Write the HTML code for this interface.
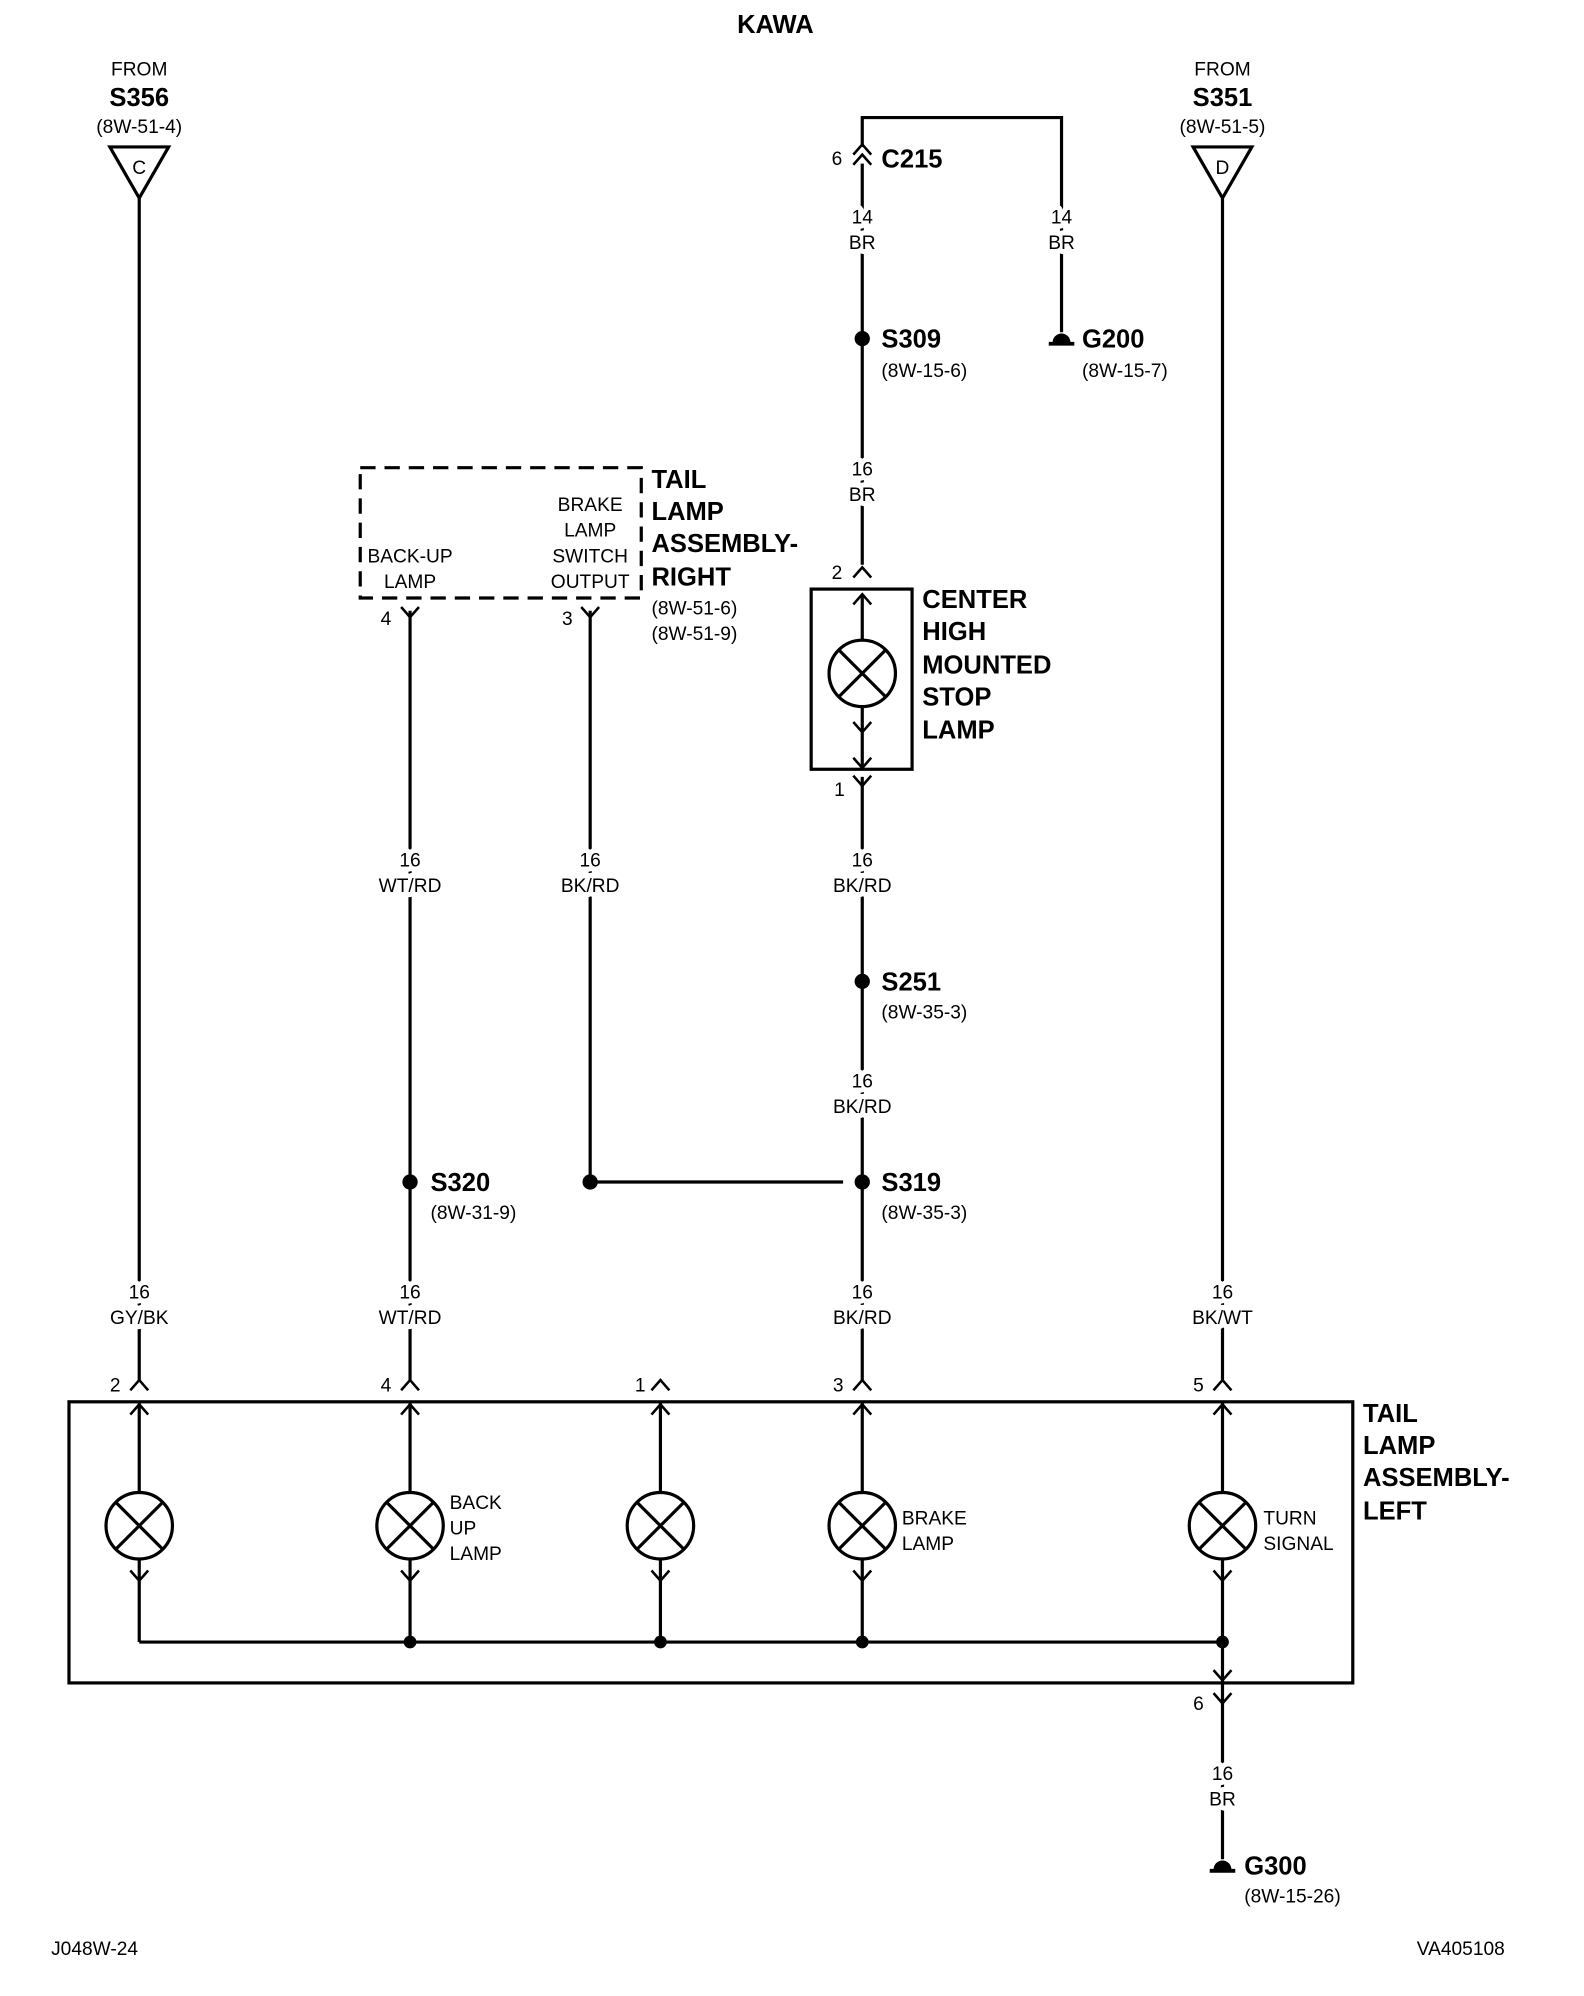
<!DOCTYPE html>
<html><head><meta charset="utf-8"><style>
html,body{margin:0;padding:0;background:#fff}
svg{display:block}
text{font-family:"Liberation Sans Narrow","Liberation Sans",sans-serif;fill:#000}
.s{font-size:15px}
.b{font-size:20px;font-weight:bold}
.m{text-anchor:middle}
.e{text-anchor:end}
.w{stroke:#fff;stroke-width:8px;paint-order:stroke;stroke-linejoin:round}
</style></head><body>
<svg width="1584" height="1996" viewBox="0 0 1240 1562" preserveAspectRatio="none" xmlns="http://www.w3.org/2000/svg">
<defs>
<g id="up"><polyline points="-7,5 0,-3 7,5" fill="none" stroke="#000" stroke-width="2"/></g>
<g id="dn"><polyline points="-7,-5 0,3 7,-5" fill="none" stroke="#000" stroke-width="2"/></g>
<g id="lamp"><circle r="26" fill="#fff" stroke="#000" stroke-width="2.5"/><line x1="-18" y1="-18" x2="18" y2="18" stroke="#000" stroke-width="2.5"/><line x1="18" y1="-18" x2="-18" y2="18" stroke="#000" stroke-width="2.5"/></g>
<g id="gnd"><path d="M-7,2 A7,7 0 0 1 7,2 Z" fill="#000"/><line x1="-10" y1="3" x2="10" y2="3" stroke="#000" stroke-width="3"/></g>
</defs>
<g stroke="#000" stroke-width="2.5" fill="none">
<polygon points="86,115 132,115 109,155"/>
<polygon points="934,115 980,115 957,155"/>
<line x1="109" y1="155" x2="109" y2="1080"/>
<line x1="957" y1="155" x2="957" y2="1080"/>
<polyline points="675,115 675,92 831,92 831,260"/>
<line x1="675" y1="128" x2="675" y2="442"/>
<rect x="635" y="461" width="79" height="141"/>
<line x1="675" y1="465" x2="675" y2="501"/>
<line x1="675" y1="553" x2="675" y2="602"/>
<line x1="675" y1="608" x2="675" y2="1080"/>
<line x1="462" y1="925" x2="660" y2="925"/>
<rect x="282" y="366" width="220" height="102" stroke-dasharray="12,7"/>
<line x1="321" y1="478" x2="321" y2="1080"/>
<line x1="462" y1="478" x2="462" y2="925"/>
<rect x="54" y="1097" width="1005" height="220"/>
<line x1="109" y1="1285" x2="957" y2="1285"/>
<line x1="957" y1="1285" x2="957" y2="1455"/>
</g>
<g stroke="#000" stroke-width="2.5">
<line x1="109" y1="1097" x2="109" y2="1168"/><line x1="109" y1="1220" x2="109" y2="1285"/>
<line x1="321" y1="1097" x2="321" y2="1168"/><line x1="321" y1="1220" x2="321" y2="1285"/>
<line x1="517" y1="1097" x2="517" y2="1168"/><line x1="517" y1="1220" x2="517" y2="1285"/>
<line x1="675" y1="1097" x2="675" y2="1168"/><line x1="675" y1="1220" x2="675" y2="1285"/>
<line x1="957" y1="1097" x2="957" y2="1168"/><line x1="957" y1="1220" x2="957" y2="1285"/>
</g>
<use href="#up" x="675" y="116"/><use href="#up" x="675" y="124"/>
<use href="#up" x="675" y="447"/><use href="#up" x="675" y="468"/>
<use href="#dn" x="675" y="570"/><use href="#dn" x="675" y="612"/><use href="#dn" x="675" y="598"/>
<use href="#dn" x="321" y="480"/><use href="#dn" x="462" y="480"/>
<use href="#up" x="109" y="1083"/><use href="#up" x="321" y="1083"/><use href="#up" x="517" y="1083"/><use href="#up" x="675" y="1083"/><use href="#up" x="957" y="1083"/>
<use href="#up" x="109" y="1102"/><use href="#up" x="321" y="1102"/><use href="#up" x="517" y="1102"/><use href="#up" x="675" y="1102"/><use href="#up" x="957" y="1102"/>
<use href="#dn" x="109" y="1234"/><use href="#dn" x="321" y="1234"/><use href="#dn" x="517" y="1234"/><use href="#dn" x="675" y="1234"/><use href="#dn" x="957" y="1234"/>
<use href="#dn" x="957" y="1312"/><use href="#dn" x="957" y="1330"/>
<use href="#lamp" x="675" y="527"/>
<use href="#lamp" x="109" y="1194"/><use href="#lamp" x="321" y="1194"/><use href="#lamp" x="517" y="1194"/><use href="#lamp" x="675" y="1194"/><use href="#lamp" x="957" y="1194"/>
<g fill="#000">
<circle cx="675" cy="265" r="6"/><circle cx="675" cy="768" r="6"/><circle cx="675" cy="925" r="6"/>
<circle cx="462" cy="925" r="6"/><circle cx="321" cy="925" r="6"/>
<circle cx="321" cy="1285" r="5"/><circle cx="517" cy="1285" r="5"/><circle cx="675" cy="1285" r="5"/><circle cx="957" cy="1285" r="5"/>
</g>
<use href="#gnd" x="831" y="266"/><use href="#gnd" x="957" y="1461"/>
<text class="b m" x="607" y="26">KAWA</text>
<text class="s m" x="109" y="59">FROM</text><text class="b m" x="109" y="83">S356</text><text class="s m" x="109" y="104">(8W-51-4)</text><text class="s m" x="109" y="136">C</text>
<text class="s m" x="957" y="59">FROM</text><text class="b m" x="957" y="83">S351</text><text class="s m" x="957" y="104">(8W-51-5)</text><text class="s m" x="957" y="136">D</text>
<text class="s" x="651" y="129">6</text><text class="b" x="690" y="131">C215</text>
<text class="s m w" x="675" y="175">14</text><text class="s m w" x="675" y="195">BR</text>
<text class="s m w" x="831" y="175">14</text><text class="s m w" x="831" y="195">BR</text>
<text class="b" x="690" y="272">S309</text><text class="s" x="690" y="295">(8W-15-6)</text>
<text class="b" x="847" y="272">G200</text><text class="s" x="847" y="295">(8W-15-7)</text>
<text class="s m w" x="675" y="372">16</text><text class="s m w" x="675" y="392">BR</text>
<text class="s" x="651" y="453">2</text>
<text class="b" x="722" y="476">CENTER</text><text class="b" x="722" y="501">HIGH</text><text class="b" x="722" y="527">MOUNTED</text><text class="b" x="722" y="552">STOP</text><text class="b" x="722" y="578">LAMP</text>
<text class="s" x="653" y="623">1</text>
<text class="s m" x="321" y="440">BACK-UP</text><text class="s m" x="321" y="460">LAMP</text>
<text class="s m" x="462" y="400">BRAKE</text><text class="s m" x="462" y="420">LAMP</text><text class="s m" x="462" y="440">SWITCH</text><text class="s m" x="462" y="460">OUTPUT</text>
<text class="b" x="510" y="382">TAIL</text><text class="b" x="510" y="407">LAMP</text><text class="b" x="510" y="432">ASSEMBLY-</text><text class="b" x="510" y="458">RIGHT</text>
<text class="s" x="510" y="481">(8W-51-6)</text><text class="s" x="510" y="501">(8W-51-9)</text>
<text class="s" x="298" y="489">4</text><text class="s" x="440" y="489">3</text>
<text class="s m w" x="321" y="678">16</text><text class="s m w" x="321" y="698">WT/RD</text>
<text class="s m w" x="462" y="678">16</text><text class="s m w" x="462" y="698">BK/RD</text>
<text class="s m w" x="675" y="678">16</text><text class="s m w" x="675" y="698">BK/RD</text>
<text class="b" x="690" y="775">S251</text><text class="s" x="690" y="797">(8W-35-3)</text>
<text class="s m w" x="675" y="851">16</text><text class="s m w" x="675" y="871">BK/RD</text>
<text class="b" x="690" y="932">S319</text><text class="s" x="690" y="954">(8W-35-3)</text>
<text class="b" x="337" y="932">S320</text><text class="s" x="337" y="954">(8W-31-9)</text>
<text class="s m w" x="109" y="1016">16</text><text class="s m w" x="109" y="1036">GY/BK</text>
<text class="s m w" x="321" y="1016">16</text><text class="s m w" x="321" y="1036">WT/RD</text>
<text class="s m w" x="675" y="1016">16</text><text class="s m w" x="675" y="1036">BK/RD</text>
<text class="s m w" x="957" y="1016">16</text><text class="s m w" x="957" y="1036">BK/WT</text>
<text class="s" x="86" y="1089">2</text><text class="s" x="298" y="1089">4</text><text class="s" x="497" y="1089">1</text><text class="s" x="652" y="1089">3</text><text class="s" x="934" y="1089">5</text>
<text class="b" x="1067" y="1113">TAIL</text><text class="b" x="1067" y="1138">LAMP</text><text class="b" x="1067" y="1163">ASSEMBLY-</text><text class="b" x="1067" y="1189">LEFT</text>
<text class="s" x="352" y="1181">BACK</text><text class="s" x="352" y="1201">UP</text><text class="s" x="352" y="1221">LAMP</text>
<text class="s" x="706" y="1193">BRAKE</text><text class="s" x="706" y="1213">LAMP</text>
<text class="s" x="989" y="1193">TURN</text><text class="s" x="989" y="1213">SIGNAL</text>
<text class="s" x="934" y="1338">6</text>
<text class="s m w" x="957" y="1393">16</text><text class="s m w" x="957" y="1413">BR</text>
<text class="b" x="974" y="1467">G300</text><text class="s" x="974" y="1489">(8W-15-26)</text>
<text class="s" x="40" y="1530">J048W-24</text><text class="s e" x="1178" y="1530">VA405108</text>
</svg>
</body></html>
